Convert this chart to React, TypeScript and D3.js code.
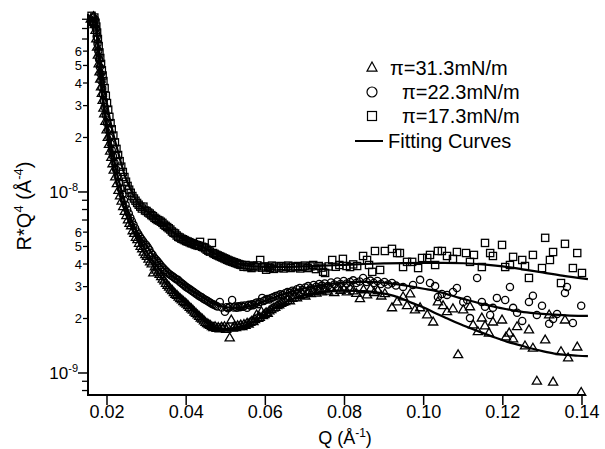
import React from 'react';
import * as d3 from 'd3';

// R*Q^4 values are given in units of 1e-9 Å^-4, Q in Å^-1
const pi313: [number, number][] = [
  [0.0159, 90], [0.0163, 86], [0.0166, 93], [0.0169, 84], [0.0171, 78],
  [0.0173, 70], [0.0175, 63], [0.0177, 57], [0.0179, 51], [0.0181, 46], [0.0183, 42], [0.0185, 38],
  [0.0187, 35], [0.0189, 32], [0.0191, 29], [0.0193, 27], [0.0196, 24.5], [0.0199, 22], [0.0202, 20],
  [0.0205, 18.3], [0.0208, 16.8], [0.0211, 15.5], [0.0214, 14.3], [0.0217, 13.2], [0.0221, 12.1],
  [0.0225, 11.1], [0.0229, 10.2], [0.0233, 9.5], [0.0237, 8.9], [0.0241, 8.3], [0.0245, 7.8],
  [0.0249, 7.4], [0.0253, 7.0], [0.0257, 6.7], [0.0261, 6.5], [0.0265, 6.1], [0.0269, 5.9],
  [0.0273, 5.6], [0.0277, 5.45], [0.0281, 5.2], [0.0285, 5.0], [0.0289, 4.85], [0.0293, 4.65],
  [0.0297, 4.5], [0.0301, 4.4], [0.0305, 4.25], [0.0309, 4.1], [0.0313, 4.0], [0.0317, 3.57],
  [0.0321, 3.85], [0.0325, 3.7], [0.0329, 3.6], [0.0333, 3.5], [0.0337, 3.4], [0.0341, 3.3],
  [0.0345, 3.22], [0.0349, 3.12], [0.0353, 3.05], [0.0357, 2.98], [0.0361, 2.9], [0.0365, 2.85],
  [0.0369, 2.78], [0.0373, 2.72], [0.0377, 2.68], [0.0381, 2.62], [0.0385, 2.57], [0.0389, 2.53],
  [0.0393, 2.48], [0.0397, 2.44], [0.0401, 2.4], [0.0405, 2.35], [0.0409, 2.3], [0.0413, 2.26],
  [0.0417, 2.22], [0.0421, 2.17], [0.0425, 2.13], [0.0429, 2.09], [0.0433, 2.05], [0.0437, 2.01],
  [0.0441, 1.98], [0.0445, 1.94], [0.0449, 1.9], [0.0453, 1.87], [0.0457, 1.85], [0.0461, 1.83],
  [0.0465, 1.8], [0.0469, 1.78], [0.0473, 1.8], [0.0477, 1.76], [0.0481, 1.78], [0.0485, 1.75],
  [0.0489, 1.79], [0.0493, 1.77], [0.0497, 1.8], [0.0501, 1.74], [0.0505, 1.78], [0.0510, 1.56],
  [0.0514, 1.96], [0.0518, 1.77], [0.0522, 1.81], [0.0526, 1.78], [0.0530, 1.82], [0.0534, 1.8],
  [0.0538, 1.84], [0.0542, 1.8], [0.0546, 1.85], [0.0550, 1.83], [0.0554, 1.88], [0.0558, 1.86],
  [0.0562, 1.9], [0.0566, 1.93], [0.0570, 1.92], [0.0574, 1.97], [0.0578, 2.09], [0.0582, 2.0],
  [0.0586, 2.03], [0.0590, 2.18], [0.0594, 2.07], [0.0598, 2.1], [0.0602, 2.15], [0.0606, 2.13],
  [0.0610, 2.2], [0.0615, 2.24], [0.0620, 2.28], [0.0625, 2.3], [0.0630, 2.35], [0.0635, 2.38],
  [0.0640, 2.42], [0.0645, 2.45], [0.0650, 2.48], [0.0656, 2.52], [0.0662, 2.5], [0.0668, 2.58],
  [0.0674, 2.62], [0.0680, 2.6], [0.0687, 2.68], [0.0694, 2.72], [0.0701, 2.66], [0.0708, 2.78],
  [0.0715, 2.74], [0.0722, 2.82], [0.0729, 2.76], [0.0736, 2.86], [0.0743, 2.8], [0.0750, 2.9],
  [0.0758, 2.83], [0.0766, 2.92], [0.0774, 2.78], [0.0782, 2.95], [0.0790, 2.86], [0.0798, 2.9],
  [0.0806, 2.8], [0.0814, 2.94], [0.0822, 2.84], [0.0830, 2.75], [0.0839, 2.57], [0.0848, 2.88],
  [0.0857, 2.7], [0.0866, 2.92], [0.0875, 2.78], [0.0884, 2.85], [0.0893, 2.66], [0.0902, 2.74],
  [0.0920, 2.29], [0.0933, 2.47], [0.0948, 2.63], [0.0958, 2.35], [0.0966, 2.73], [0.0978, 2.23],
  [0.0991, 2.29], [0.1009, 2.09], [0.1024, 1.91], [0.1036, 2.47], [0.1049, 2.35], [0.1059, 2.18],
  [0.1074, 2.26], [0.1087, 1.26], [0.1100, 2.23], [0.1117, 2.32], [0.1125, 1.84], [0.1137, 1.69],
  [0.1147, 2.01], [0.1155, 1.82], [0.1165, 1.66], [0.1175, 1.91], [0.1198, 1.96], [0.1208, 1.58],
  [0.1216, 1.66], [0.1226, 1.54], [0.1236, 1.8], [0.1256, 1.41], [0.1266, 1.73], [0.1276, 1.37],
  [0.1286, 0.9], [0.1307, 1.52], [0.1317, 2.09], [0.1327, 0.89], [0.1347, 1.31], [0.1357, 1.96],
  [0.1365, 1.21], [0.1388, 1.39], [0.1398, 0.78],
];

const pi223: [number, number][] = [
  [0.0160, 88], [0.0164, 92], [0.0167, 85], [0.0170, 90], [0.0172, 80],
  [0.0174, 72], [0.0176, 66], [0.0178, 60], [0.0180, 54], [0.0182, 49], [0.0184, 45], [0.0186, 41],
  [0.0188, 37.5], [0.0190, 34.5], [0.0192, 32], [0.0194, 29.5], [0.0197, 26.5], [0.0200, 24],
  [0.0203, 22], [0.0206, 20], [0.0209, 18.5], [0.0212, 17], [0.0215, 15.8], [0.0219, 14.5],
  [0.0223, 13.3], [0.0227, 12.2], [0.0231, 11.3], [0.0235, 10.4], [0.0239, 9.7], [0.0243, 9.0],
  [0.0247, 8.5], [0.0251, 8.0], [0.0255, 7.6], [0.0259, 7.2], [0.0263, 6.9], [0.0267, 6.6],
  [0.0271, 6.3], [0.0275, 6.05], [0.0279, 5.85], [0.0283, 5.65], [0.0287, 5.5], [0.0291, 5.35],
  [0.0295, 5.2], [0.0299, 5.1], [0.0303, 4.95], [0.0307, 4.8], [0.0311, 4.6], [0.0315, 4.5],
  [0.0319, 4.35], [0.0323, 4.25], [0.0327, 4.15], [0.0331, 4.05], [0.0335, 3.95], [0.0339, 3.85],
  [0.0343, 3.78], [0.0347, 3.7], [0.0351, 3.62], [0.0355, 3.55], [0.0359, 3.5], [0.0363, 3.45],
  [0.0367, 3.4], [0.0371, 3.35], [0.0375, 3.3], [0.0379, 3.27], [0.0383, 3.2], [0.0387, 3.15],
  [0.0391, 3.1], [0.0395, 3.05], [0.0399, 3.0], [0.0403, 2.96], [0.0407, 2.92], [0.0411, 2.88],
  [0.0415, 2.84], [0.0419, 2.8], [0.0423, 2.76], [0.0427, 2.72], [0.0431, 2.68], [0.0435, 2.65],
  [0.0439, 2.62], [0.0443, 2.58], [0.0447, 2.55], [0.0451, 2.52], [0.0455, 2.49], [0.0459, 2.46],
  [0.0463, 2.43], [0.0467, 2.4], [0.0471, 2.38], [0.0475, 2.35], [0.0479, 2.33], [0.0485, 2.47],
  [0.0490, 2.3], [0.0498, 2.18], [0.0502, 2.31], [0.0506, 2.28], [0.0510, 2.32], [0.0516, 2.53],
  [0.0520, 2.3], [0.0524, 2.33], [0.0528, 2.29], [0.0532, 2.34], [0.0536, 2.31], [0.0540, 2.35],
  [0.0544, 2.32], [0.0548, 2.36], [0.0554, 2.29], [0.0558, 2.38], [0.0562, 2.35], [0.0566, 2.4],
  [0.0570, 2.37], [0.0574, 2.42], [0.0578, 2.45], [0.0582, 2.4], [0.0586, 2.47], [0.0592, 2.6],
  [0.0596, 2.5], [0.0600, 2.53], [0.0605, 2.56], [0.0610, 2.55], [0.0615, 2.6], [0.0620, 2.62],
  [0.0626, 2.66], [0.0632, 2.68], [0.0638, 2.72], [0.0644, 2.7], [0.0650, 2.76], [0.0656, 2.8],
  [0.0662, 2.78], [0.0668, 2.85], [0.0674, 2.82], [0.0680, 2.9], [0.0687, 2.95], [0.0694, 2.88],
  [0.0701, 2.97], [0.0708, 3.02], [0.0715, 2.94], [0.0722, 3.06], [0.0729, 3.0], [0.0736, 3.1],
  [0.0743, 3.04], [0.0750, 3.12], [0.0758, 3.02], [0.0766, 3.16], [0.0774, 3.08], [0.0782, 3.2],
  [0.0790, 3.1], [0.0798, 3.22], [0.0806, 3.12], [0.0814, 3.18], [0.0822, 3.25], [0.0830, 3.14],
  [0.0838, 3.2], [0.0847, 3.35], [0.0856, 3.18], [0.0865, 3.24], [0.0874, 3.14], [0.0883, 3.22],
  [0.0892, 3.1], [0.0901, 3.18], [0.0910, 3.08], [0.0920, 3.14], [0.0930, 3.04], [0.0948, 2.99],
  [0.0973, 3.06], [0.0991, 3.27], [0.1016, 3.14], [0.1029, 3.02], [0.1036, 2.63], [0.1046, 2.73],
  [0.1059, 2.7], [0.1074, 2.8], [0.1084, 2.95], [0.1100, 2.47], [0.1110, 2.53], [0.1117, 2.01],
  [0.1135, 3.35], [0.1147, 2.47], [0.1155, 2.32], [0.1168, 2.09], [0.1175, 2.29], [0.1185, 2.6],
  [0.1206, 2.53], [0.1218, 2.99], [0.1226, 2.29], [0.1236, 2.15], [0.1249, 1.94], [0.1266, 2.47],
  [0.1276, 2.67], [0.1286, 2.09], [0.1299, 2.35], [0.1317, 1.87], [0.1327, 1.99], [0.1337, 2.12],
  [0.1357, 2.77], [0.1362, 2.99], [0.1377, 1.89], [0.1398, 2.35],
];

const pi173: [number, number][] = [
  [0.0161, 94], [0.0165, 88], [0.0168, 92], [0.0171, 86], [0.0173, 82],
  [0.0175, 76], [0.0177, 70], [0.0179, 64], [0.0181, 59], [0.0183, 55], [0.0185, 51], [0.0187, 47],
  [0.0189, 44], [0.0191, 41], [0.0194, 37.5], [0.0197, 34], [0.0200, 31], [0.0203, 28.5],
  [0.0206, 26], [0.0209, 24], [0.0212, 22.2], [0.0216, 20.5], [0.0220, 18.8], [0.0224, 17.3],
  [0.0228, 16.0], [0.0232, 14.8], [0.0236, 13.8], [0.0240, 12.9], [0.0244, 12.1], [0.0248, 11.4],
  [0.0252, 10.8], [0.0256, 10.3], [0.0260, 9.9], [0.0264, 9.5], [0.0268, 9.2], [0.0272, 8.95],
  [0.0276, 8.7], [0.0280, 8.5], [0.0284, 8.3], [0.0288, 8.1], [0.0292, 8.3], [0.0296, 7.9],
  [0.0300, 7.85], [0.0304, 7.7], [0.0308, 7.6], [0.0312, 7.45], [0.0316, 7.35], [0.0320, 7.2],
  [0.0324, 7.1], [0.0328, 7.0], [0.0332, 6.95], [0.0336, 6.85], [0.0340, 6.75], [0.0344, 6.6],
  [0.0348, 6.5], [0.0352, 6.4], [0.0356, 6.3], [0.0360, 6.2], [0.0364, 6.05], [0.0368, 5.95],
  [0.0372, 5.9], [0.0376, 5.75], [0.0380, 5.65], [0.0384, 5.6], [0.0388, 5.52], [0.0392, 5.48],
  [0.0396, 5.42], [0.0400, 5.36], [0.0404, 5.32], [0.0408, 5.28], [0.0412, 5.22], [0.0416, 5.2],
  [0.0420, 5.15], [0.0424, 5.1], [0.0428, 5.08], [0.0432, 5.04], [0.0435, 5.3], [0.0440, 4.98],
  [0.0444, 4.95], [0.0448, 4.88], [0.0452, 4.8], [0.0456, 4.74], [0.0460, 4.68], [0.0465, 5.23],
  [0.0468, 4.6], [0.0472, 4.55], [0.0476, 4.5], [0.0480, 4.46], [0.0484, 4.42], [0.0488, 4.38],
  [0.0492, 4.34], [0.0496, 4.3], [0.0500, 4.26], [0.0504, 4.22], [0.0508, 4.18], [0.0512, 4.15],
  [0.0516, 4.12], [0.0520, 4.09], [0.0524, 4.06], [0.0528, 4.03], [0.0532, 4.0], [0.0536, 3.97],
  [0.0540, 3.95], [0.0545, 3.86], [0.0550, 3.95], [0.0555, 3.85], [0.0560, 3.92], [0.0565, 3.8],
  [0.0570, 3.9], [0.0575, 3.84], [0.0580, 3.93], [0.0587, 4.21], [0.0592, 3.82], [0.0597, 3.88],
  [0.0602, 3.72], [0.0607, 3.86], [0.0612, 3.8], [0.0617, 3.92], [0.0622, 3.76], [0.0628, 3.88],
  [0.0634, 3.82], [0.0640, 3.9], [0.0646, 3.78], [0.0652, 3.86], [0.0658, 3.92], [0.0664, 3.8],
  [0.0670, 3.88], [0.0676, 3.84], [0.0682, 3.9], [0.0688, 3.78], [0.0694, 3.86], [0.0700, 3.92],
  [0.0707, 3.8], [0.0714, 3.88], [0.0721, 3.95], [0.0728, 3.75], [0.0735, 3.9], [0.0742, 3.82],
  [0.0746, 3.62], [0.0751, 3.57], [0.0760, 3.88], [0.0769, 4.21], [0.0778, 3.86], [0.0787, 3.95],
  [0.0796, 4.27], [0.0805, 3.9], [0.0814, 3.85], [0.0822, 3.98], [0.0832, 3.9], [0.0847, 4.43],
  [0.0857, 4.21], [0.0862, 3.95], [0.0870, 3.62], [0.0877, 4.72], [0.0890, 3.71], [0.0902, 4.72],
  [0.0920, 4.85], [0.0933, 4.6], [0.0940, 4.6], [0.0948, 3.85], [0.0958, 4.11], [0.0971, 4.11],
  [0.0986, 3.8], [0.0996, 4.32], [0.1009, 4.32], [0.1016, 4.49], [0.1029, 3.95], [0.1036, 4.72],
  [0.1046, 4.72], [0.1059, 4.43], [0.1074, 4.27], [0.1084, 4.66], [0.1107, 4.6], [0.1117, 4.11],
  [0.1127, 4.49], [0.1147, 3.85], [0.1155, 5.23], [0.1168, 4.6], [0.1175, 4.43], [0.1198, 5.1],
  [0.1206, 3.85], [0.1218, 3.95], [0.1226, 4.38], [0.1249, 4.21], [0.1256, 3.9], [0.1266, 3.35],
  [0.1276, 4.49], [0.1299, 3.8], [0.1307, 5.58], [0.1319, 4.21], [0.1327, 4.66], [0.1347, 3.14],
  [0.1357, 5.17], [0.1377, 3.8], [0.1388, 4.6], [0.1400, 3.57],
];

const fit313: [number, number][] = [
  [0.0170, 92], [0.0174, 76], [0.0178, 58], [0.0182, 47], [0.0186, 37], [0.0190, 30.5], [0.0195, 25],
  [0.0200, 21], [0.0207, 17.2], [0.0215, 14], [0.0225, 11.2], [0.0235, 9.3], [0.0245, 7.9],
  [0.0258, 6.7], [0.0270, 5.85], [0.0285, 5.0], [0.0300, 4.4], [0.0320, 3.85], [0.0340, 3.32],
  [0.0360, 2.92], [0.0380, 2.64], [0.0400, 2.41], [0.0420, 2.19], [0.0440, 1.99], [0.0460, 1.84],
  [0.0480, 1.77], [0.0500, 1.75], [0.0520, 1.77], [0.0540, 1.8], [0.0560, 1.87], [0.0580, 1.97],
  [0.0600, 2.1], [0.0620, 2.26], [0.0640, 2.4], [0.0660, 2.52], [0.0680, 2.62], [0.0700, 2.7],
  [0.0730, 2.78], [0.0760, 2.83], [0.0790, 2.86], [0.0820, 2.85], [0.0850, 2.83], [0.0880, 2.79],
  [0.0910, 2.72], [0.0940, 2.6], [0.0970, 2.44], [0.1000, 2.3], [0.1030, 2.14], [0.1060, 2.0],
  [0.1090, 1.87], [0.1120, 1.76], [0.1150, 1.66], [0.1180, 1.57], [0.1210, 1.49], [0.1240, 1.43],
  [0.1270, 1.37], [0.1300, 1.32], [0.1330, 1.28], [0.1360, 1.26], [0.1390, 1.245], [0.1415, 1.24],
];

const fit223: [number, number][] = [
  [0.0170, 93], [0.0174, 77], [0.0178, 60], [0.0182, 49], [0.0186, 40], [0.0190, 33.5], [0.0195, 27.5],
  [0.0200, 23.5], [0.0207, 19.2], [0.0215, 15.8], [0.0225, 12.7], [0.0235, 10.5], [0.0245, 8.8],
  [0.0258, 7.4], [0.0270, 6.4], [0.0285, 5.6], [0.0300, 5.05], [0.0320, 4.35], [0.0340, 3.85],
  [0.0360, 3.5], [0.0380, 3.25], [0.0400, 3.0], [0.0420, 2.8], [0.0440, 2.63], [0.0460, 2.47],
  [0.0480, 2.37], [0.0500, 2.31], [0.0520, 2.29], [0.0540, 2.3], [0.0560, 2.34], [0.0580, 2.41],
  [0.0600, 2.5], [0.0620, 2.6], [0.0640, 2.7], [0.0660, 2.79], [0.0680, 2.87], [0.0700, 2.94],
  [0.0730, 3.03], [0.0760, 3.1], [0.0790, 3.15], [0.0820, 3.18], [0.0850, 3.19], [0.0880, 3.18],
  [0.0910, 3.14], [0.0940, 3.08], [0.0970, 3.0], [0.1000, 2.92], [0.1030, 2.84], [0.1060, 2.72],
  [0.1090, 2.6], [0.1120, 2.5], [0.1150, 2.4], [0.1180, 2.32], [0.1210, 2.25], [0.1240, 2.19],
  [0.1270, 2.15], [0.1300, 2.12], [0.1330, 2.1], [0.1360, 2.08], [0.1390, 2.07], [0.1415, 2.07],
];

const fit173: [number, number][] = [
  [0.0170, 95], [0.0174, 82], [0.0178, 67], [0.0182, 56], [0.0186, 48], [0.0190, 41.5], [0.0195, 35],
  [0.0200, 30.5], [0.0207, 25.5], [0.0215, 21.3], [0.0225, 17.6], [0.0235, 14.6], [0.0245, 12.3],
  [0.0258, 10.5], [0.0270, 9.3], [0.0285, 8.4], [0.0300, 7.85], [0.0320, 7.25], [0.0340, 6.75],
  [0.0360, 6.2], [0.0380, 5.7], [0.0400, 5.38], [0.0420, 5.15], [0.0440, 4.98], [0.0460, 4.72],
  [0.0480, 4.48], [0.0500, 4.27], [0.0520, 4.1], [0.0540, 3.97], [0.0560, 3.9], [0.0600, 3.86],
  [0.0650, 3.86], [0.0700, 3.88], [0.0750, 3.92], [0.0800, 3.96], [0.0850, 4.0], [0.0900, 4.03],
  [0.0950, 4.05], [0.1000, 4.06], [0.1050, 4.06], [0.1100, 4.04], [0.1150, 3.98], [0.1200, 3.88],
  [0.1250, 3.74], [0.1300, 3.6], [0.1350, 3.45], [0.1415, 3.3],
];

const xTicks = [0.02, 0.04, 0.06, 0.08, 0.1, 0.12, 0.14];
const yDecades = [1e-9, 1e-8];
const yDigitTicks = [2e-9, 3e-9, 4e-9, 5e-9, 6e-9, 2e-8, 3e-8, 4e-8, 5e-8, 6e-8];
const yPlainTicks = [8e-10, 9e-10, 7e-9, 8e-9, 9e-9, 7e-8, 8e-8, 9e-8];
const legendLabels = ['π=31.3mN/m', 'π=22.3mN/m', 'π=17.3mN/m', 'Fitting Curves'];

const FONT = "'Liberation Sans', Arial, Helvetica, sans-serif";

export default function App() {
  const x = d3.scaleLinear().domain([0.0152, 0.14076]).range([88, 585]);
  const y = d3.scaleLog().domain([7.558e-10, 9.5e-8]).range([395, 15]);
  const px = (d: [number, number]) => x(d[0]);
  const py = (d: [number, number]) => y(d[1] * 1e-9);

  const line = d3
    .line<[number, number]>()
    .x(px)
    .y(py)
    .curve(d3.curveMonotoneX);

  const tri = 'M0,-5L4.6,2.9L-4.6,2.9Z';
  const markStyle = { fill: 'none', stroke: '#000', strokeWidth: 1.3 };

  return (
    <svg
      width={605}
      height={449}
      style={{ position: 'absolute', left: 0, top: 0, background: '#fff' }}
      fontFamily={FONT}
    >
      <rect x={0} y={0} width={605} height={449} fill="#fff" />

      {/* data points */}
      <g>
        {pi173.map((d, i) => (
          <rect key={'s' + i} x={px(d) - 3.6} y={py(d) - 3.6} width={7.2} height={7.2} {...markStyle} />
        ))}
        {pi223.map((d, i) => (
          <circle key={'c' + i} cx={px(d)} cy={py(d)} r={3.6} {...markStyle} />
        ))}
        {pi313.map((d, i) => (
          <path key={'t' + i} d={tri} transform={`translate(${px(d)},${py(d)})`} {...markStyle} />
        ))}
      </g>

      {/* fitting curves */}
      {[fit313, fit223, fit173].map((f, i) => (
        <path key={'f' + i} d={line(f) || ''} fill="none" stroke="#000" strokeWidth={2.2} />
      ))}

      {/* axes */}
      <line x1={88} y1={14} x2={88} y2={396} stroke="#000" strokeWidth={2} />
      <line x1={87} y1={395} x2={585} y2={395} stroke="#000" strokeWidth={1.8} />

      {xTicks.map((t) => (
        <g key={'x' + t}>
          <line x1={x(t)} x2={x(t)} y1={395} y2={405} stroke="#000" strokeWidth={1.5} />
          <text x={x(t)} y={418} textAnchor="middle" fontSize={18}>
            {t.toFixed(2)}
          </text>
        </g>
      ))}

      {yDecades.map((t) => (
        <g key={'yd' + t}>
          <line x1={78} x2={88} y1={y(t)} y2={y(t)} stroke="#000" strokeWidth={1.5} />
          <text x={78} y={y(t) + 6} textAnchor="end">
            <tspan fontSize={17}>10</tspan>
            <tspan fontSize={11} dy={-7}>
              {'-' + Math.round(-Math.log10(t))}
            </tspan>
          </text>
        </g>
      ))}
      {yDigitTicks.map((t) => (
        <g key={'yg' + t}>
          <line x1={83} x2={88} y1={y(t)} y2={y(t)} stroke="#000" strokeWidth={1.3} />
          <text x={82} y={y(t) + 4.6} textAnchor="end" fontSize={13}>
            {Math.round(t / Math.pow(10, Math.floor(Math.log10(t) + 1e-9)))}
          </text>
        </g>
      ))}
      {yPlainTicks.map((t) => (
        <line key={'yp' + t} x1={82} x2={88} y1={y(t)} y2={y(t)} stroke="#000" strokeWidth={1.3} />
      ))}

      {/* axis titles */}
      <text x={345} y={444} textAnchor="middle" fontSize={18}>
        Q (Å<tspan fontSize={12} dy={-7}>-1</tspan>
        <tspan dy={7}>)</tspan>
      </text>
      <text transform="translate(31,206) rotate(-90)" textAnchor="middle" fontSize={20}>
        R*Q<tspan fontSize={13} dy={-8}>4</tspan>
        <tspan dy={8}> (Å</tspan>
        <tspan fontSize={13} dy={-8}>-4</tspan>
        <tspan dy={8}>)</tspan>
      </text>

      {/* legend */}
      <g fontSize={20}>
        <path d="M0,-6L5,3.2L-5,3.2Z" transform="translate(372,68)" fill="none" stroke="#000" strokeWidth={1.2} />
        <text x={390} y={75}>{legendLabels[0]}</text>
        <circle cx={372} cy={92} r={5} fill="none" stroke="#000" strokeWidth={1.2} />
        <text x={402} y={99}>{legendLabels[1]}</text>
        <rect x={367.5} y={111.5} width={9} height={9} fill="none" stroke="#000" strokeWidth={1.2} />
        <text x={402} y={123}>{legendLabels[2]}</text>
        <line x1={355} x2={383} y1={141} y2={141} stroke="#000" strokeWidth={2} />
        <text x={388} y={148}>{legendLabels[3]}</text>
      </g>
    </svg>
  );
}
